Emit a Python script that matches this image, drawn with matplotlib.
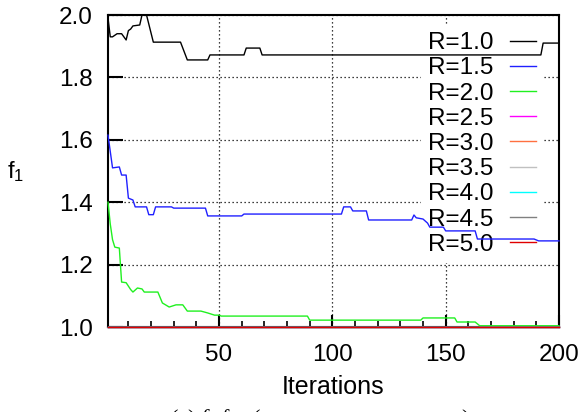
import matplotlib
matplotlib.use("Agg")
from matplotlib import pyplot as plt
from matplotlib.ticker import MultipleLocator, FixedLocator

plt.rcParams['font.family'] = ['Liberation Sans', 'DejaVu Sans']
plt.rcParams['mathtext.fontset'] = 'custom'
plt.rcParams['mathtext.rm'] = 'Liberation Sans'
plt.rcParams['mathtext.it'] = 'Liberation Serif:italic'

# data (iteration, f1)
R10_X = [1, 2, 3, 5, 7, 9, 10, 11, 12, 15, 16, 18, 21, 33, 36, 45, 46, 61, 62, 68, 69, 192, 193, 200]
R10_Y = [1.99, 1.93, 1.93, 1.94, 1.94, 1.92, 1.95, 1.955, 1.965, 1.968, 2.0, 2.0, 1.913, 1.913,
         1.856, 1.856, 1.872, 1.872, 1.894, 1.894, 1.872, 1.872, 1.91, 1.91]

R15_X = [1, 3, 6, 7, 9, 10, 12, 13, 18, 19, 21, 22, 29, 30, 44, 45, 60, 61, 104, 105, 108, 109,
         115, 116, 135, 136, 137, 140, 142, 143, 149, 150, 163, 164, 189, 191, 200]
R15_Y = [1.615, 1.51, 1.513, 1.487, 1.487, 1.413, 1.407, 1.385, 1.385, 1.36, 1.36, 1.385, 1.385,
         1.381, 1.381, 1.356, 1.356, 1.362, 1.362, 1.385, 1.385, 1.372, 1.372, 1.343, 1.343,
         1.359, 1.35, 1.346, 1.333, 1.32, 1.32, 1.308, 1.308, 1.282, 1.282, 1.276, 1.276]

R20_X = [1, 2, 3, 4, 6, 7, 9, 11, 12, 14, 16, 17, 23, 25, 28, 31, 34, 36, 42, 45, 48, 50, 51,
         89, 90, 139, 140, 154, 155, 163, 165, 200]
R20_Y = [1.40, 1.33, 1.28, 1.256, 1.253, 1.144, 1.142, 1.12, 1.112, 1.125, 1.122, 1.112, 1.112,
         1.077, 1.064, 1.071, 1.071, 1.051, 1.051, 1.045, 1.038, 1.038, 1.035, 1.035, 1.022,
         1.022, 1.029, 1.029, 1.016, 1.016, 1.004, 1.004]

# R=2.5 ... R=5.0 stay at 1.0 the whole run
FLAT_X = [1, 200]
FLAT_Y = [1.0, 1.0]

LABELS = ["R=1.0", "R=1.5", "R=2.0", "R=2.5", "R=3.0", "R=3.5", "R=4.0", "R=4.5", "R=5.0"]
COLORS = ["black", "#2020ff", "#20f020", "#ff00ff", "#ff7040", "#c0c0c0", "#00ffff", "#808080", "#e00000"]
SERIES = [(R10_X, R10_Y), (R15_X, R15_Y), (R20_X, R20_Y)] + [(FLAT_X, FLAT_Y)] * 6

fig = plt.figure(figsize=(5.86, 4.12), dpi=100)
ax = fig.add_axes([108 / 586, 85 / 412, 451 / 586, 312 / 412])
ax.set_axisbelow(True)

for (xs, ys), lab, col in zip(SERIES, LABELS, COLORS):
    ax.plot(xs, ys, color=col, lw=1.0, label=lab, zorder=3, clip_on=False)

ax.set_xlim(1, 200)
ax.set_ylim(1.0, 2.0)
ax.xaxis.set_major_locator(FixedLocator([50, 100, 150, 200]))
ax.xaxis.set_minor_locator(FixedLocator([v for v in range(10, 200, 10) if v % 50]))
ax.yaxis.set_major_locator(MultipleLocator(0.2))
ax.yaxis.set_major_formatter(plt.FuncFormatter(lambda v, p: "%.1f" % v))

ax.grid(True, which='major', color='black', lw=0.9, linestyle=(0, (1, 2.2)))
ax.tick_params(axis='both', which='major', direction='in', width=1.5, labelsize=17.5)
ax.tick_params(axis='x', which='major', length=9, pad=12)
ax.tick_params(axis='y', which='major', length=11, pad=11)
ax.tick_params(axis='x', which='minor', direction='in', length=4, width=1.2)
for s in ax.spines.values():
    s.set_linewidth(1.5)

leg = ax.legend(loc='upper right', bbox_to_anchor=(0.9645, 0.968), borderaxespad=0,
                markerfirst=False, frameon=True, facecolor='white', edgecolor='none',
                framealpha=1, fancybox=False, borderpad=0.3, handlelength=1.07,
                handletextpad=0.66, labelspacing=0.13, fontsize=17.5)
leg.set_zorder(1)

ax.set_xlabel("Iterations", fontsize=18)
ax.xaxis.set_label_coords(0.5, -0.192)
ax.xaxis.label.set_va('center')
fig.text(16 / 586, 1 - 172 / 412, r"f$_1$", fontsize=17, ha='center', va='center')

# caption, mostly cut off by the bottom edge
fig.text(170 / 586, -0.03, r"(a) $f_1$ for (convergence over runs)", fontsize=16,
         family='Liberation Serif', ha='left', va='baseline')

fig.savefig("out.png", dpi=100)
